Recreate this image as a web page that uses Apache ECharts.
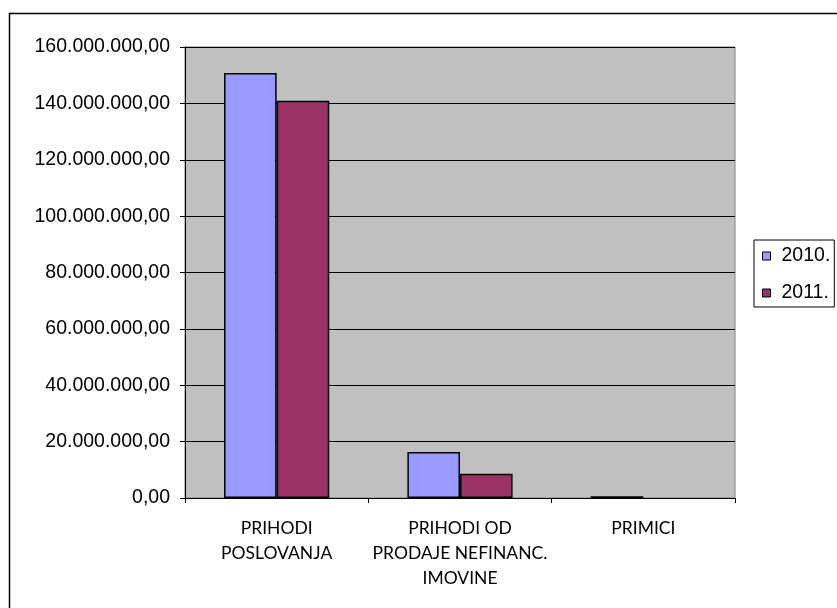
<!DOCTYPE html>
<html>
<head>
<meta charset="utf-8">
<script src="https://cdn.jsdelivr.net/npm/echarts@6/dist/echarts.min.js"></script>
<style>
html,body{margin:0;padding:0;background:#fff;}
#c{width:837px;height:608px;}
</style>
</head>
<body>
<div id="c"></div>
<script>
var categories = ['PRIHODI\nPOSLOVANJA', 'PRIHODI OD\nPRODAJE NEFINANC.\nIMOVINE', 'PRIMICI'];
var seriesNames = ['2010.', '2011.'];
var values2010 = [150800000, 16300000, 600000];
var values2011 = [140900000, 8600000, null];
var yMin = 0, yMax = 160000000, yInterval = 20000000;

function fmt(v) {
  var s = Math.round(v).toString().replace(/\B(?=(\d{3})+(?!\d))/g, '.');
  return s + ',00';
}

var chart = echarts.init(document.getElementById('c'), null, {renderer: 'canvas'});
chart.setOption({
  animation: false,
  backgroundColor: '#fff',
  graphic: [{
    type: 'rect', silent: true, z: -1,
    shape: {x: 9.5, y: 13.5, width: 900, height: 700},
    style: {fill: 'none', stroke: '#000', lineWidth: 1.5}
  }],
  grid: {
    left: 185, top: 47, right: 102, bottom: 110,
    show: true, backgroundColor: '#C0C0C0', borderColor: '#808080', borderWidth: 1
  },
  legend: {
    orient: 'vertical',
    left: 754, top: 240,
    padding: [5, 4, 3, 8],
    borderColor: '#000', borderWidth: 1,
    itemWidth: 8, itemHeight: 8, itemGap: 15,
    icon: 'rect',
    itemStyle: {borderColor: '#000', borderWidth: 1},
    textStyle: {fontFamily: 'Liberation Sans, Arial', fontSize: 19.5, color: '#000', lineHeight: 22, padding: [0, 0, 0, 6]},
    data: seriesNames
  },
  xAxis: {
    type: 'category',
    data: categories,
    axisLine: {lineStyle: {color: '#000', width: 1}},
    axisTick: {show: true, length: 5, lineStyle: {color: '#000'}},
    axisLabel: {
      interval: 0, margin: 18, color: '#000',
      fontFamily: 'Lato', fontSize: 17.5, lineHeight: 25
    }
  },
  yAxis: {
    type: 'value',
    min: yMin, max: yMax, interval: yInterval,
    axisLine: {show: true, lineStyle: {color: '#000', width: 1}},
    axisTick: {show: true, length: 5, lineStyle: {color: '#000'}},
    splitLine: {show: true, lineStyle: {color: '#000', width: 1}},
    axisLabel: {
      margin: 15, color: '#000',
      fontFamily: 'Liberation Sans, Arial', fontSize: 19.5,
      formatter: fmt
    }
  },
  series: [{
    name: seriesNames[0], type: 'bar', data: values2010,
    barGap: '0%', barCategoryGap: '42.6%',
    itemStyle: {color: '#9999FF', borderColor: '#000', borderWidth: 1.5}
  }, {
    name: seriesNames[1], type: 'bar', data: values2011,
    barGap: '0%', barCategoryGap: '42.6%',
    itemStyle: {color: '#993366', borderColor: '#000', borderWidth: 1.5}
  }]
});
</script>
</body>
</html>
